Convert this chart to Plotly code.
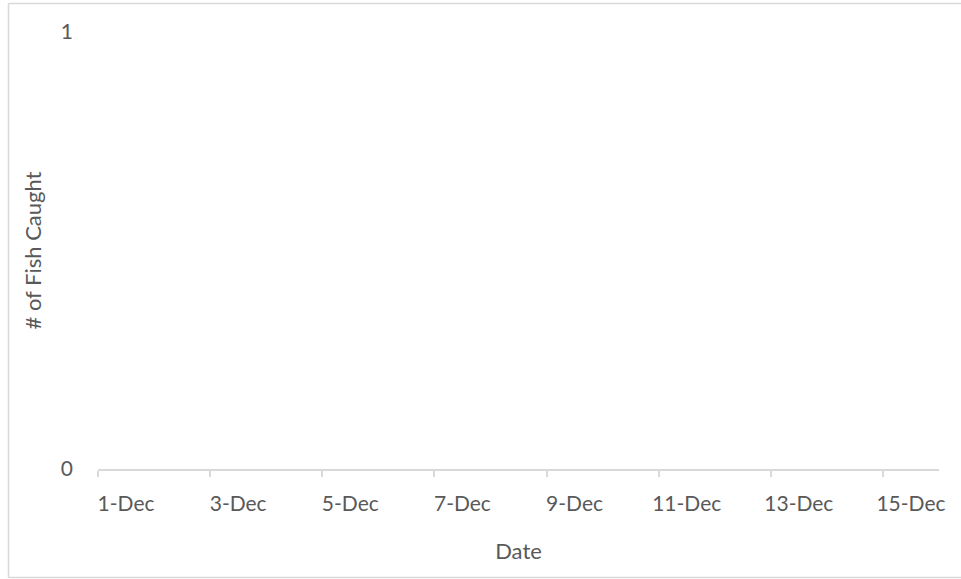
import plotly.graph_objects as go

# Data (the reference chart shows no plotted values)
dates = ["2023-12-01", "2023-12-02", "2023-12-03", "2023-12-04", "2023-12-05",
         "2023-12-06", "2023-12-07", "2023-12-08", "2023-12-09", "2023-12-10",
         "2023-12-11", "2023-12-12", "2023-12-13", "2023-12-14", "2023-12-15"]
fish_caught = [None, None, None, None, None, None, None, None,
               None, None, None, None, None, None, None]
label_dates = ["2023-12-01", "2023-12-03", "2023-12-05", "2023-12-07",
               "2023-12-09", "2023-12-11", "2023-12-13", "2023-12-15"]
tick_labels = ["1-Dec", "3-Dec", "5-Dec", "7-Dec", "9-Dec", "11-Dec", "13-Dec", "15-Dec"]
y_ticks = [0, 1]

FONT = "Lato"
GRAY = "#595959"
LINE = "#d9d9d9"

fig = go.Figure()
fig.add_trace(go.Scatter(x=dates, y=fish_caught, mode="lines+markers",
                         name="# of Fish Caught", showlegend=False))

W, H = 961, 579
L, R, T, B = 98, 22, 32, 110
pw, ph = W - L - R, H - T - B

# chart-area border (left, top, bottom edges; right edge lies outside the view)
bx0 = (8.5 - L) / pw
bx1 = (961 - L) / pw
by0 = -(577.5 - (H - B)) / ph
by1 = ((H - B) - 3.5) / ph
border = dict(color=LINE, width=1.5)

fig.update_layout(
    width=W, height=H,
    margin=dict(l=L, r=R, t=T, b=B),
    paper_bgcolor="white", plot_bgcolor="white",
    font=dict(family=FONT, size=21, color=GRAY),
    showlegend=False,
    xaxis=dict(
        type="date",
        range=["2023-12-01", "2023-12-16"],
        tickmode="array",
        tickvals=[d + " 12:00" for d in label_dates],
        ticktext=tick_labels,
        ticks="",
        showgrid=False, zeroline=False,
        showline=True, linecolor=LINE, linewidth=1.5,
        minor=dict(tickmode="array", tickvals=label_dates, ticks="outside",
                   ticklen=6, tickcolor=LINE, tickwidth=1.5, showgrid=False),
        tickfont=dict(family=FONT, size=21, color=GRAY),
        ticklabelstandoff=15,
        title=dict(text="Date", font=dict(family=FONT, size=22, color=GRAY), standoff=30),
        fixedrange=True,
    ),
    yaxis=dict(
        range=[0, 1],
        tickmode="array", tickvals=y_ticks, ticktext=[str(v) for v in y_ticks],
        ticks="", showgrid=False, zeroline=False, showline=False,
        tickfont=dict(family=FONT, size=21, color=GRAY),
        ticklabelstandoff=24,
        title=dict(text="# of Fish Caught", font=dict(family=FONT, size=22, color=GRAY), standoff=13),
        fixedrange=True,
    ),
    shapes=[
        dict(type="line", xref="paper", yref="paper", x0=bx0, x1=bx0, y0=by0, y1=by1, line=border),
        dict(type="line", xref="paper", yref="paper", x0=bx0, x1=bx1, y0=by1, y1=by1, line=border),
        dict(type="line", xref="paper", yref="paper", x0=bx0, x1=bx1, y0=by0, y1=by0, line=border),
    ],
)

fig.write_html("out.html", config={"displayModeBar": False},
               post_script="document.body.style.margin='0px';document.body.style.overflow='hidden';")
